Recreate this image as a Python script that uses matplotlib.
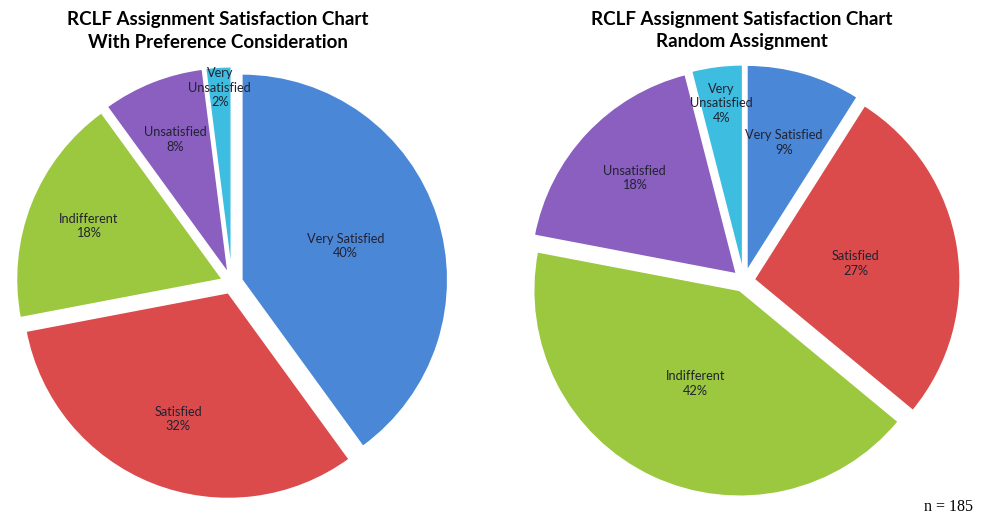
import numpy as np
import matplotlib.pyplot as plt

# datos de las dos encuestas
categories = ['Very Satisfied', 'Satisfied', 'Indifferent', 'Unsatisfied', 'Very\nUnsatisfied']
pref_values = [40, 32, 18, 8, 2]
random_values = [9, 27, 42, 18, 4]
colors = ['#4a87d6', '#dc4b4b', '#9bc83e', '#8a5fbf', '#3dbde0']

# distancia radial de cada etiqueta (fraccion del radio)
pref_label_r = [0.53, 0.66, 0.70, 0.70, 0.90]
random_label_r = [0.65, 0.50, 0.50, 0.68, 0.82]

W, H = 985, 521
fig = plt.figure(figsize=(W / 100, H / 100), dpi=100)
S = 2.3 * 206  # tamano del eje en pixeles


def draw_pie(cx, cy, values, label_r):
    ax = fig.add_axes([(cx - S / 2) / W, (H - cy - S / 2) / H, S / W, S / H])
    wedges, _ = ax.pie(values, colors=colors, startangle=90, counterclock=False,
                       explode=[0.05] * len(values),
                       wedgeprops=dict(edgecolor='white', linewidth=1.2))
    for w, cat, v, lr in zip(wedges, categories, values, label_r):
        ang = np.deg2rad((w.theta1 + w.theta2) / 2)
        x = w.center[0] + lr * np.cos(ang)
        y = w.center[1] + lr * np.sin(ang)
        ax.text(x, y, f'{cat}\n{v}%', ha='center', va='center', fontsize=9.2,
                family='Lato', color='#222233', linespacing=1.25)
    ax.set_xlim(-1.15, 1.15)
    ax.set_ylim(-1.15, 1.15)
    ax.set_aspect('equal')
    ax.axis('off')


draw_pie(232, 283, pref_values, pref_label_r)
draw_pie(744, 281, random_values, random_label_r)

title_kw = dict(ha='center', va='center', fontsize=13.5, fontweight='bold', family='Lato')
fig.text(218 / W, 1 - 19 / H, 'RCLF Assignment Satisfaction Chart', **title_kw)
fig.text(218 / W, 1 - 42 / H, 'With Preference Consideration', **title_kw)
fig.text(742 / W, 1 - 19 / H, 'RCLF Assignment Satisfaction Chart', **title_kw)
fig.text(742 / W, 1 - 42 / H, 'Random Assignment', **title_kw)

fig.text(948 / W, 1 - 507 / H, 'n = 185', ha='center', va='center', fontsize=11.5,
         family='Liberation Serif')

fig.savefig('out.png', dpi=100)
